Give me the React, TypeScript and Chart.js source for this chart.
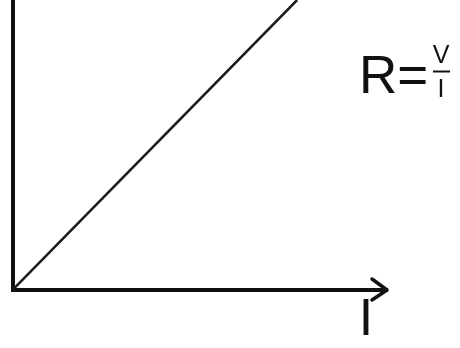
import React, { useEffect, useRef } from "react";
import { Chart, registerables } from "chart.js";

Chart.register(...registerables);

// Data: current I (x) against voltage V (y) for a resistor (Ohm's law)
const currentI = [0, 7.6];
const voltageV = [0, 10];
const xAxisRange = [0, 10];
const yAxisRange = [0, 10];
const axisLabelX = "I";
const formulaLeft = "R=";
const formulaNum = "V";
const formulaDen = "I";

const FONT = 'Arial, "Liberation Sans", Helvetica, sans-serif';

const decorPlugin = {
  id: "decor",
  afterDraw(chart: any) {
    const { ctx, chartArea } = chart;
    const right = chartArea.right;
    const bottom = chartArea.bottom;
    ctx.save();
    // arrow head at the end of the I axis
    ctx.strokeStyle = "#111";
    ctx.lineWidth = 3.5;
    ctx.lineCap = "round";
    ctx.lineJoin = "round";
    ctx.beginPath();
    ctx.moveTo(right - 15, bottom - 11);
    ctx.lineTo(right, bottom);
    ctx.lineTo(right - 15, bottom + 10);
    ctx.stroke();

    ctx.fillStyle = "#111";
    ctx.textBaseline = "alphabetic";
    // axis label I
    ctx.font = "52px " + FONT;
    ctx.textAlign = "center";
    ctx.fillText(axisLabelX, 366, 335);

    // R = V / I
    ctx.textAlign = "left";
    ctx.font = "53px " + FONT;
    ctx.fillText(formulaLeft, 359, 93);
    ctx.textAlign = "center";
    ctx.font = "25px " + FONT;
    ctx.fillText(formulaNum, 441, 63);
    ctx.fillText(formulaDen, 441, 97);
    ctx.lineWidth = 2;
    ctx.lineCap = "butt";
    ctx.beginPath();
    ctx.moveTo(433, 71.5);
    ctx.lineTo(450, 71.5);
    ctx.stroke();
    ctx.restore();
  },
};

export default function App() {
  const ref = useRef<HTMLCanvasElement | null>(null);
  useEffect(() => {
    if (!ref.current) return;
    const chart = new Chart(ref.current, {
      type: "line",
      data: {
        datasets: [
          {
            data: currentI.map((x, i) => ({ x, y: voltageV[i] })),
            borderColor: "#1a1a1a",
            borderWidth: 2.5,
            pointRadius: 0,
            fill: false,
            tension: 0,
          },
        ],
      },
      options: {
        animation: false,
        responsive: false,
        devicePixelRatio: 1,
        layout: { padding: { left: 12.5, right: 73, top: 0, bottom: 58 } },
        plugins: { legend: { display: false }, tooltip: { enabled: false } },
        scales: {
          x: {
            type: "linear",
            min: xAxisRange[0],
            max: xAxisRange[1],
            ticks: { display: false },
            grid: { display: false, drawTicks: false },
            border: { display: true, color: "#111", width: 4 },
          },
          y: {
            type: "linear",
            min: yAxisRange[0],
            max: yAxisRange[1],
            ticks: { display: false },
            grid: { display: false, drawTicks: false },
            border: { display: true, color: "#111", width: 4 },
          },
        },
      },
      plugins: [decorPlugin],
    });
    if ((document as any).fonts && (document as any).fonts.load) {
      (document as any).fonts
        .load("53px Arial")
        .then(() => chart.draw())
        .catch(() => {});
    }
    return () => chart.destroy();
  }, []);
  return (
    <div style={{ position: "absolute", left: 0, top: 0, width: 460, height: 348, background: "#fff" }}>
      <canvas ref={ref} width={460} height={348} />
    </div>
  );
}
